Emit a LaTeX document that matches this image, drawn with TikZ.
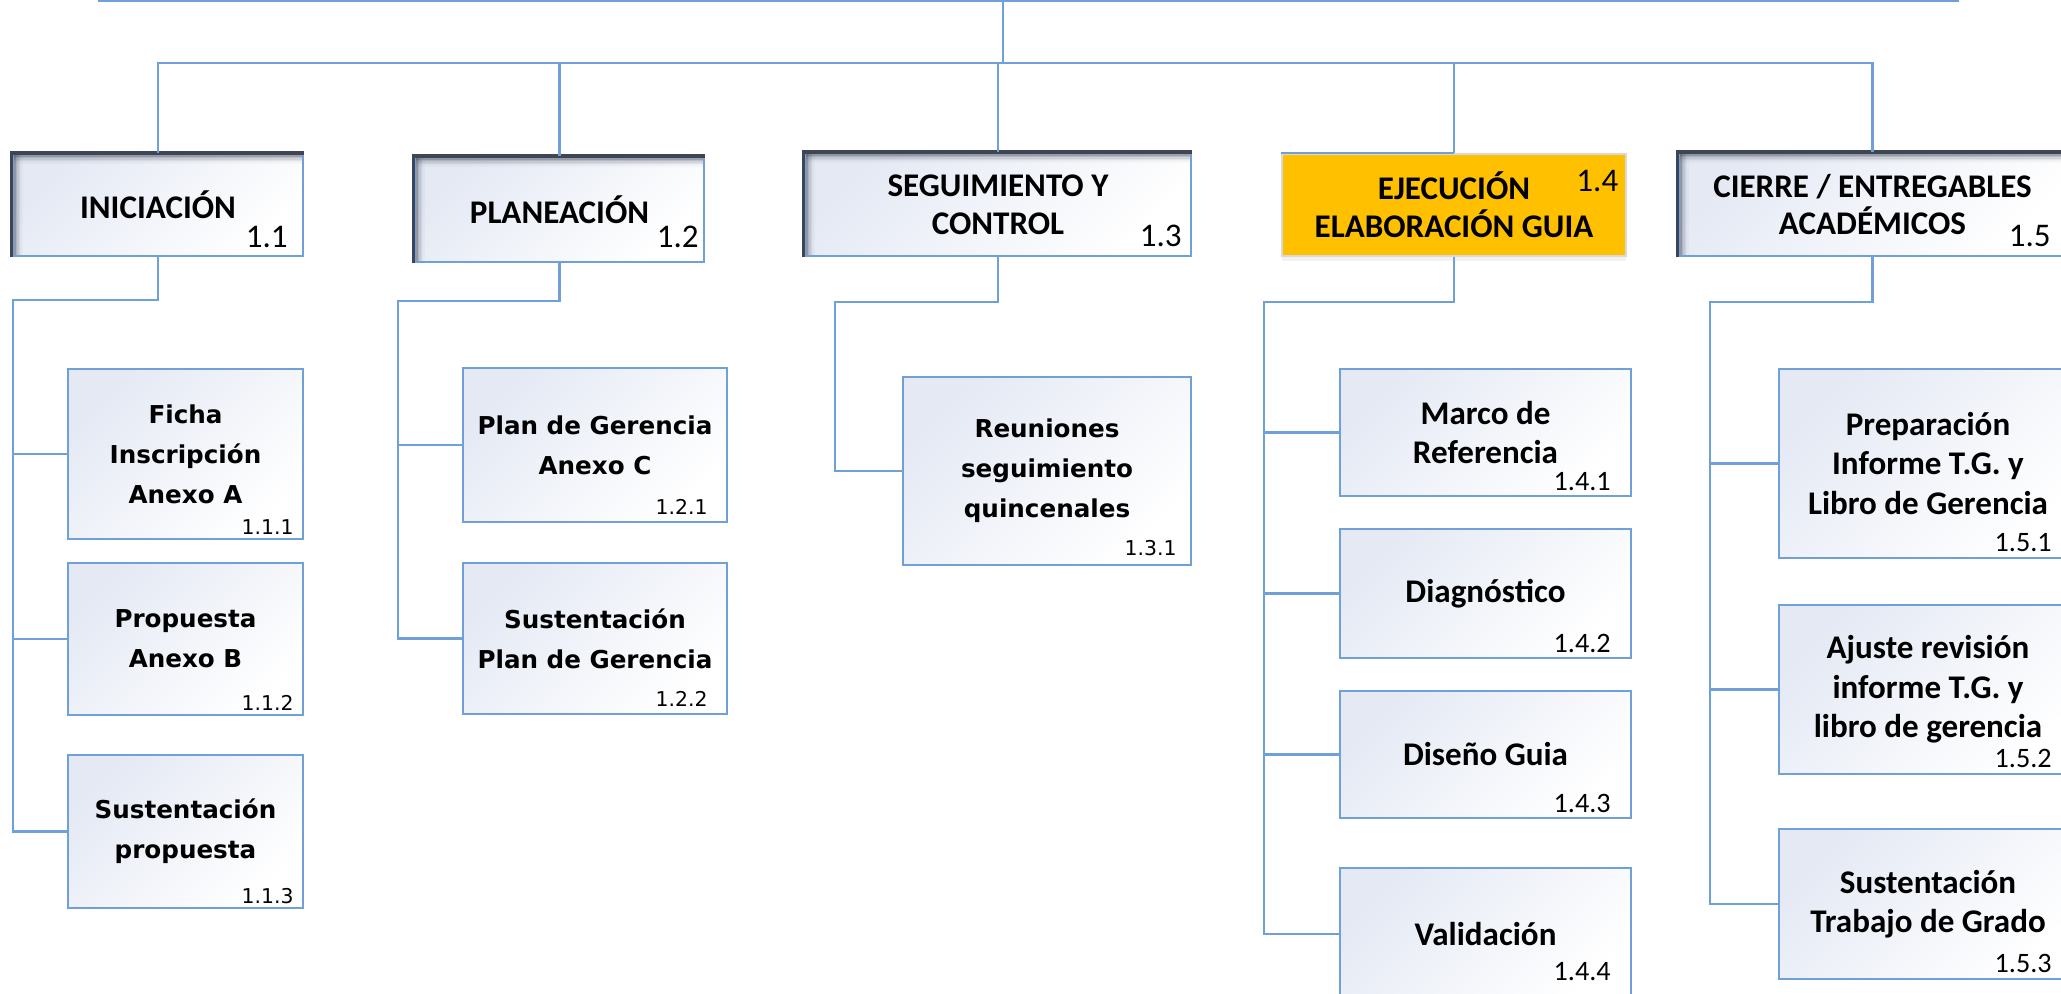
\documentclass[tikz,border=0pt]{standalone}
\usepackage{fontspec}
\setmainfont{Carlito}
\newfontfamily\verdfont{DejaVu Sans}
\usetikzlibrary{shadows}

\definecolor{linkblue}{RGB}{111,160,216}
\definecolor{boxtl}{RGB}{228,233,244}
\definecolor{shadedark}{RGB}{62,70,86}
\definecolor{ejecorange}{RGB}{255,192,0}

\tikzset{
	link/.style={draw=linkblue, line width=0.7pt},
	wbsbox/.style={draw=linkblue, line width=0.7pt, inner sep=0pt, align=center, top color=boxtl, bottom color=white, shading angle=45},
	headbox/.style={wbsbox, font=\bfseries\fontsize{9.4}{10.8}\selectfont,
		path picture={
			\foreach \k/\o in {0/.7,1/.5,2/.34,3/.22,4/.13,5/.07,6/.03}{
				\fill[shadedark, opacity=\o] ([yshift=-\k*0.14mm]path picture bounding box.north west) rectangle ([yshift=-\k*0.14mm-0.14mm]path picture bounding box.north east);
				\fill[shadedark, opacity=\o] ([xshift=\k*0.14mm]path picture bounding box.north west) rectangle ([xshift=\k*0.14mm+0.14mm]path picture bounding box.south west);
			}}},
	orangebox/.style={draw=gray!30, line width=0.5pt, fill=ejecorange, inner sep=0pt, align=center, font=\bfseries\fontsize{9.4}{10.8}\selectfont,
		drop shadow={shadow xshift=0mm, shadow yshift=-0.5mm, opacity=.1}},
	subv/.style={wbsbox, font=\verdfont\bfseries\fontsize{7}{11.4}\selectfont},
	subc/.style={wbsbox, font=\bfseries\fontsize{9.4}{11.2}\selectfont},
	numhead/.style={anchor=base east, inner sep=0pt, font=\fontsize{9.4}{10.8}\selectfont},
	numv/.style={anchor=base east, inner sep=0pt, font=\verdfont\fontsize{5.8}{7}\selectfont},
	numc/.style={anchor=base east, inner sep=0pt, font=\fontsize{8}{9.6}\selectfont}
}

\begin{document}
\begin{tikzpicture}[x=0.01cm, y=-0.01cm]
	\useasboundingbox[fill=white] (0,0) rectangle (2061,993);

	\node[inner sep=0pt, minimum width=18.59cm, minimum height=1cm, anchor=south] (root) at (1028.5,1) {};
	\coordinate (bus) at (1003,63);
	\draw[link] (root.south west) -- (root.south east);
	\draw[link] (root.south -| bus) -- (bus);

	\node[headbox, minimum width=29mm, minimum height=10.2mm] (h11) at (158,205) {INICIACIÓN};
	\node[headbox, minimum width=28.9mm, minimum height=10.5mm] (h12) at (559.5,209.5) {PLANEACIÓN};
	\node[headbox, minimum width=38.6mm, minimum height=10.3mm] (h13) at (998,204.5) {SEGUIMIENTO Y\\CONTROL};
	\node[orangebox, minimum width=34.4mm, minimum height=10.2mm] (h14) at (1454,205) {EJECUCIÓN\\ELABORACIÓN GUIA};
	\node[headbox, minimum width=38.7mm, minimum height=10.3mm] (h15) at (1872.5,204.5) {CIERRE / ENTREGABLES\\ACADÉMICOS};
	\foreach \h in {h11,h12,h13,h15}
		\draw[shadedark, line width=1pt] (\h.south west) -- (\h.north west) -- (\h.north east);

	\node[numhead] (n11) at ([shift={(-16,-10)}]h11.south east) {1.1};
	\node[numhead] (n12) at ([shift={(-6,-16)}]h12.south east) {1.2};
	\node[numhead] (n13) at ([shift={(-10,-11)}]h13.south east) {1.3};
	\node[numhead] (n14) at ([shift={(-8,38)}]h14.north east) {1.4};
	\node[numhead] (n15) at ([shift={(-16,-11)}]h15.south east) {1.5};

	\foreach \h in {h11,h12,h13,h14,h15}
		\draw[link] (bus) -| (\h);
	\draw[link] (h14.north west) -- (h14.north);

	\node[subv, minimum width=23.5mm, minimum height=17mm] (c111) at (185.5,454) {Ficha\\Inscripción\\Anexo A};
	\node[subv, minimum width=23.5mm, minimum height=15.2mm] (c112) at (185.5,639) {Propuesta\\Anexo B};
	\node[subv, minimum width=23.5mm, minimum height=15.3mm] (c113) at (185.5,831.5) {Sustentación\\propuesta};
	\node[subv, minimum width=26.4mm, minimum height=15.4mm] (c121) at (595,445) {Plan de Gerencia\\Anexo C};
	\node[subv, minimum width=26.4mm, minimum height=15.1mm] (c122) at (595,638.5) {Sustentación\\Plan de Gerencia};
	\node[subv, minimum width=28.8mm, minimum height=18.8mm] (c131) at (1047,471) {Reuniones\\seguimiento\\quincenales};
	\node[subc, minimum width=29.1mm, minimum height=12.7mm] (c141) at (1485.5,432.5) {Marco de\\Referencia};
	\node[subc, minimum width=29.1mm, minimum height=12.9mm] (c142) at (1485.5,593.5) {Diagnóstico};
	\node[subc, minimum width=29.1mm, minimum height=12.7mm] (c143) at (1485.5,754.5) {Diseño Guia};
	\node[subc, minimum width=29.1mm, minimum height=13.2mm] (c144) at (1485.5,934) {Validación};
	\node[subc, minimum width=29.8mm, minimum height=18.9mm] (c151) at (1928,463.5) {Preparación\\Informe T.G. y\\Libro de Gerencia};
	\node[subc, minimum width=29.8mm, minimum height=16.9mm] (c152) at (1928,689.5) {Ajuste revisión\\informe T.G. y\\libro de gerencia};
	\node[subc, minimum width=29.8mm, minimum height=15mm] (c153) at (1928,904) {Sustentación\\Trabajo de Grado};

	\node[numv] (n111) at ([shift={(-10,-6)}]c111.south east) {1.1.1};
	\node[numv] (n112) at ([shift={(-10,-6)}]c112.south east) {1.1.2};
	\node[numv] (n113) at ([shift={(-10,-6)}]c113.south east) {1.1.3};
	\node[numv] (n121) at ([shift={(-20,-9)}]c121.south east) {1.2.1};
	\node[numv] (n122) at ([shift={(-20,-9)}]c122.south east) {1.2.2};
	\node[numv] (n131) at ([shift={(-15,-11)}]c131.south east) {1.3.1};
	\node[numc] (n141) at ([shift={(-21,-7)}]c141.south east) {1.4.1};
	\node[numc] (n142) at ([shift={(-21,-7)}]c142.south east) {1.4.2};
	\node[numc] (n143) at ([shift={(-21,-7)}]c143.south east) {1.4.3};
	\node[numc] (n144) at ([shift={(-21,-21)}]c144.south east) {1.4.4};
	\node[numc] (n151) at ([shift={(-26,-8)}]c151.south east) {1.5.1};
	\node[numc] (n152) at ([shift={(-26,-8)}]c152.south east) {1.5.2};
	\node[numc] (n153) at ([shift={(-26,-8)}]c153.south east) {1.5.3};

	\coordinate (sp1) at (13,300);
	\coordinate (sp2) at (398,301);
	\coordinate (sp3) at (835,302);
	\coordinate (sp4) at (1264,302);
	\coordinate (sp5) at (1710,302);
	\foreach \c in {c111,c112,c113}
		\draw[link] (h11) |- (sp1) |- (\c);
	\foreach \c in {c121,c122}
		\draw[link] (h12) |- (sp2) |- (\c);
	\draw[link] (h13) |- (sp3) |- (c131);
	\foreach \c in {c141,c142,c143,c144}
		\draw[link] (h14) |- (sp4) |- (\c);
	\foreach \c in {c151,c152,c153}
		\draw[link] (h15) |- (sp5) |- (\c);
\end{tikzpicture}
\end{document}
